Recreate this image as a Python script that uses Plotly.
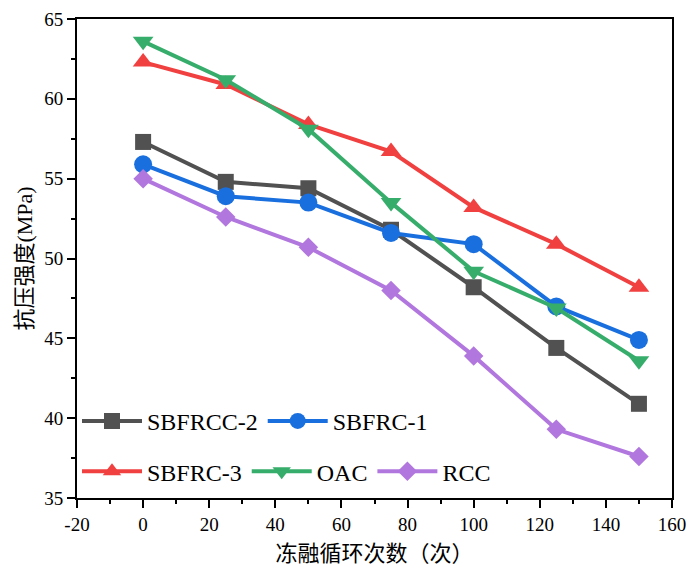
import plotly.graph_objects as go

cycles = [0, 25, 50, 75, 100, 125, 150]
sbfrcc2 = [57.3, 54.8, 54.4, 51.8, 48.2, 44.4, 40.9]
sbfrc1 = [55.9, 53.9, 53.5, 51.6, 50.9, 47.0, 44.9]
sbfrc3 = [62.3, 60.9, 58.4, 56.7, 53.2, 50.9, 48.2]
oac = [63.6, 61.2, 58.1, 53.5, 49.2, 46.9, 43.6]
rcc = [55.0, 52.6, 50.7, 48.0, 43.9, 39.3, 37.6]

x_ticks = [-20, 0, 20, 40, 60, 80, 100, 120, 140, 160]
y_ticks = [35, 40, 45, 50, 55, 60, 65]

serif = "Liberation Serif"
cjk = "Liberation Serif, Noto Sans CJK SC"

series = [
    ("SBFRCC-2", sbfrcc2, "#515151", "square", 16, "legend"),
    ("SBFRC-1", sbfrc1, "#1A6FDF", "circle", 18, "legend"),
    ("SBFRC-3", sbfrc3, "#F14040", "triangle-up", 18, "legend2"),
    ("OAC", oac, "#37AD6B", "triangle-down", 18, "legend2"),
    ("RCC", rcc, "#B177DE", "diamond", 15, "legend2"),
]

fig = go.Figure()
for name, vals, color, sym, size, leg in series:
    fig.add_trace(go.Scatter(
        x=cycles, y=vals, name=name, mode="lines+markers",
        line=dict(color=color, width=4),
        marker=dict(symbol=sym, size=size, color=color, line=dict(width=0)),
        legend=leg,
    ))

axis_common = dict(
    showline=True, linecolor="black", linewidth=2, mirror=True,
    ticks="outside", ticklen=8, tickwidth=1.5, tickcolor="black",
    showgrid=False, zeroline=False, automargin=False,
    tickfont=dict(family=serif, size=19, color="black"),
)

leg_common = dict(
    orientation="h", x=0.0, xanchor="left", yanchor="middle",
    font=dict(family=serif, size=24, color="black"), bgcolor="rgba(0,0,0,0)",
    itemwidth=60, tracegroupgap=0,
)

fig.update_layout(
    width=688, height=570,
    margin=dict(l=77, r=16, t=19, b=72),
    plot_bgcolor="white", paper_bgcolor="white",
    font=dict(family=cjk),
    xaxis=dict(
        range=[-20, 160], tickvals=x_ticks, ticktext=[str(v) for v in x_ticks],
        minor=dict(ticks="outside", ticklen=4, tickwidth=1.5, tickcolor="black", dtick=10),
        title=dict(text="冻融循环次数（次）", font=dict(family=cjk, size=22, color="black"), standoff=12),
        **axis_common,
    ),
    yaxis=dict(
        range=[35, 65], tickvals=y_ticks, ticktext=[str(v) for v in y_ticks],
        minor=dict(ticks="outside", ticklen=4, tickwidth=1.5, tickcolor="black", dtick=2.5),
        title=dict(text="抗压强度(MPa)", font=dict(family=cjk, size=22, color="black"), standoff=6),
        **axis_common,
    ),
    legend=dict(y=0.16, **leg_common),
    legend2=dict(y=0.055, **leg_common),
)

# remove the browser's default 8px body margin so the 688x570 figure fills the window
fig.write_html(
    "out.html",
    config={"displayModeBar": False},
    post_script="document.body.style.margin='0';document.body.style.overflow='hidden';",
)
